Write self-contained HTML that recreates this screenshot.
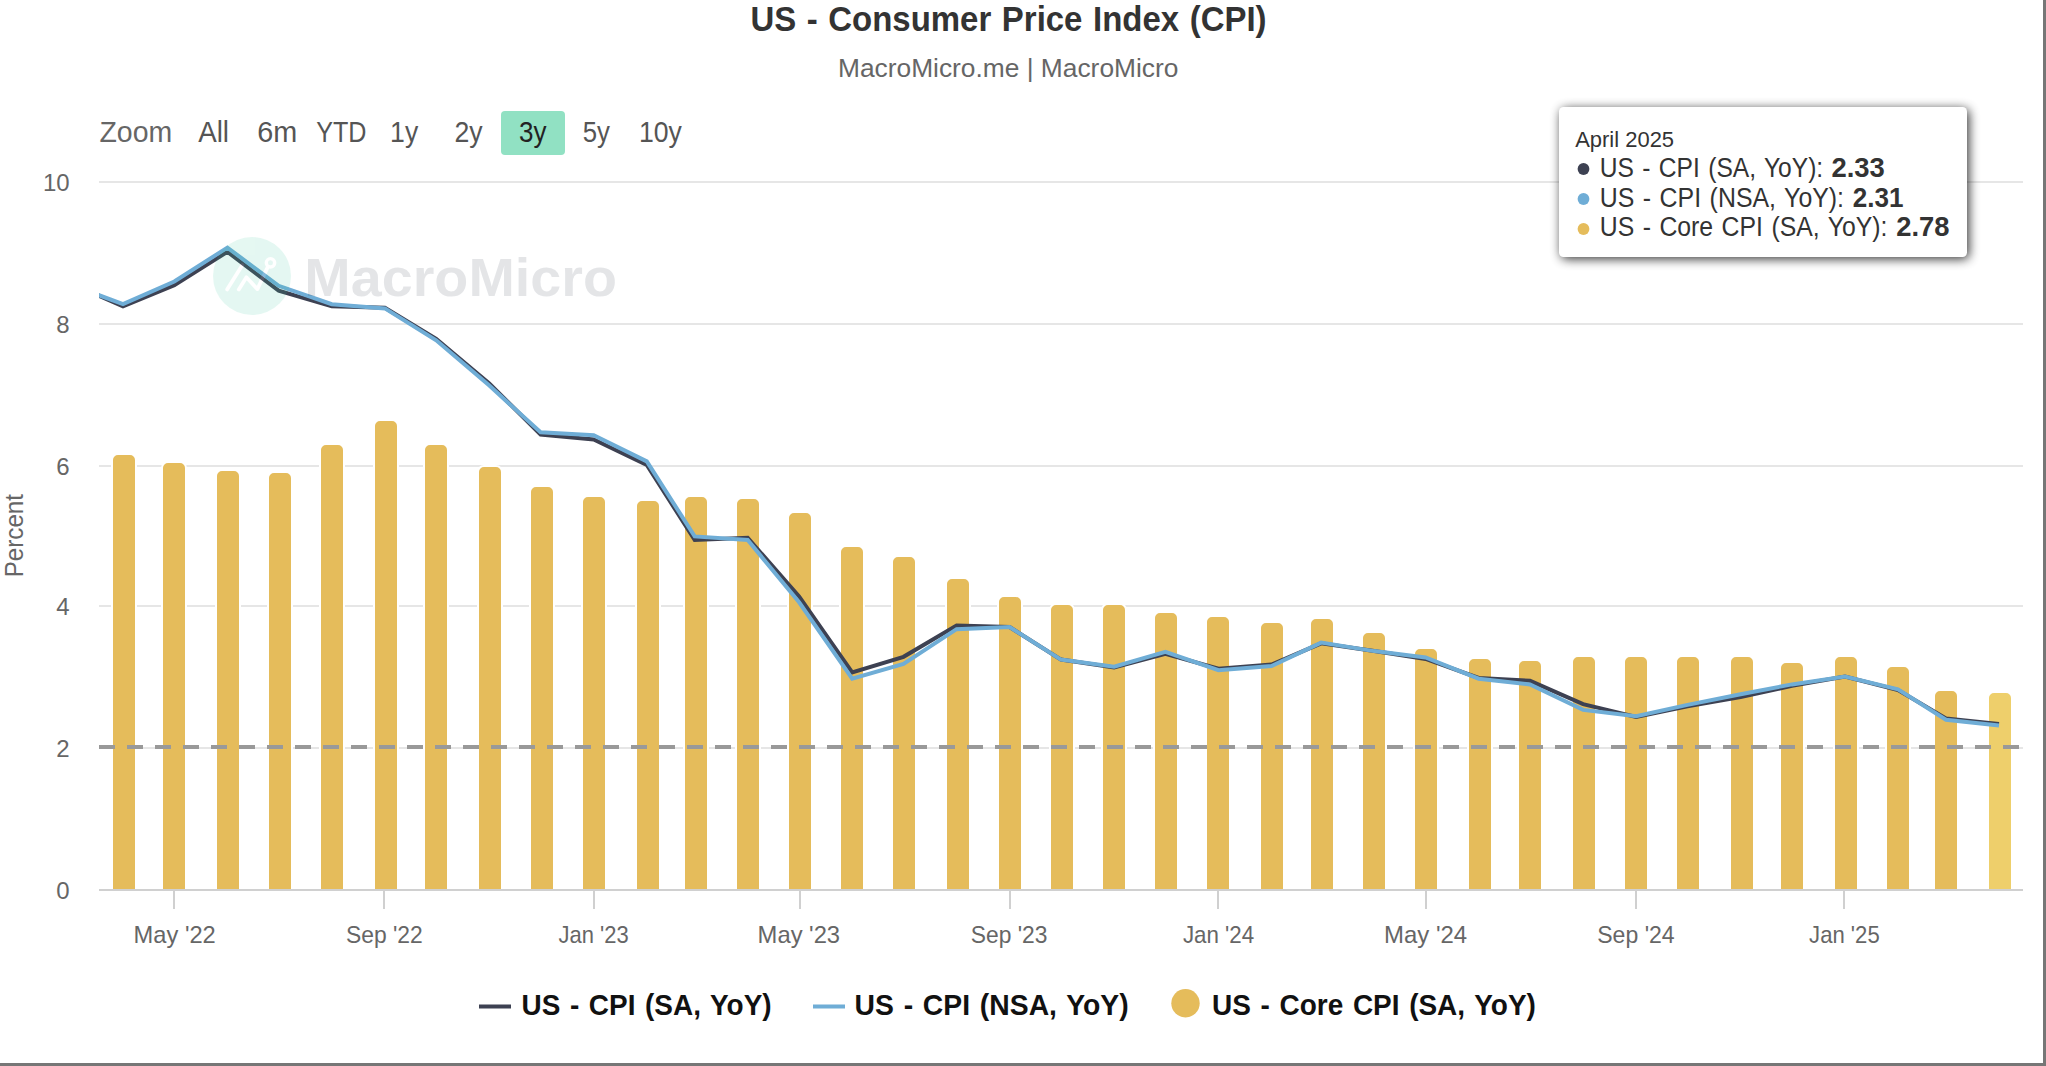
<!DOCTYPE html>
<html lang="en"><head><meta charset="utf-8"><title>US - Consumer Price Index (CPI)</title>
<style>html,body{margin:0;padding:0;background:#fff;overflow:hidden}svg text{white-space:pre}</style></head>
<body>
<svg width="2046" height="1066" viewBox="0 0 2046 1066" style="display:block;font-family:'Liberation Sans', 'DejaVu Sans', sans-serif">
<defs><clipPath id="pc"><rect x="99" y="160" width="1924" height="740"/></clipPath><filter id="sh" x="-10%" y="-25%" width="120%" height="150%"><feGaussianBlur stdDeviation="5.5"/></filter></defs>
<rect width="2046" height="1066" fill="#fff"/>
<text transform="translate(750.42,30.9) scale(0.9419,1)" font-size="35" font-weight="700" fill="#333" style="word-spacing:1.5px" id="title">US - Consumer Price Index (CPI)</text>
<text transform="translate(837.97,77) scale(1.0136,1)" font-size="26" fill="#666" id="subtitle">MacroMicro.me | MacroMicro</text>
<rect x="501" y="111" width="64" height="44" rx="4" fill="#91e1c3"/>
<text transform="translate(99.40,141.8) scale(0.9657,1)" font-size="29.5" fill="#666" id="zoom">Zoom</text>
<text transform="translate(198.20,141.8) scale(0.9414,1)" font-size="29.5" fill="#555">All</text>
<text transform="translate(257.32,141.8) scale(0.9764,1)" font-size="29.5" fill="#555">6m</text>
<text transform="translate(316.20,141.8) scale(0.8510,1)" font-size="29.5" fill="#555">YTD</text>
<text transform="translate(390.10,141.8) scale(0.9012,1)" font-size="29.5" fill="#555">1y</text>
<text transform="translate(454.50,141.8) scale(0.9044,1)" font-size="29.5" fill="#555">2y</text>
<text transform="translate(519.12,141.8) scale(0.8814,1)" font-size="29.5" fill="#222">3y</text>
<text transform="translate(582.73,141.8) scale(0.8748,1)" font-size="29.5" fill="#555">5y</text>
<text transform="translate(639.00,141.8) scale(0.9015,1)" font-size="29.5" fill="#555">10y</text>
<rect x="99" y="181" width="1924" height="2" fill="#e6e6e6"/>
<rect x="99" y="323" width="1924" height="2" fill="#e6e6e6"/>
<rect x="99" y="465" width="1924" height="2" fill="#e6e6e6"/>
<rect x="99" y="605" width="1924" height="2" fill="#e6e6e6"/>
<rect x="99" y="747" width="1924" height="2" fill="#e6e6e6"/>
<text x="69.6" y="191.1" text-anchor="end" font-size="24" fill="#666">10</text>
<text x="69.6" y="333.1" text-anchor="end" font-size="24" fill="#666">8</text>
<text x="69.6" y="475.1" text-anchor="end" font-size="24" fill="#666">6</text>
<text x="69.6" y="615.1" text-anchor="end" font-size="24" fill="#666">4</text>
<text x="69.6" y="757.1" text-anchor="end" font-size="24" fill="#666">2</text>
<text x="69.6" y="899.1" text-anchor="end" font-size="24" fill="#666">0</text>
<text transform="translate(23.2,575.5) rotate(-90) translate(-1.86,0) scale(0.9312,1)" font-size="26" fill="#666" id="ytitle">Percent</text>
<g stroke="#fff" stroke-width="2">
<path d="M112 890V460a6 6 0 0 1 6 -6H130a6 6 0 0 1 6 6V890Z" fill="#e5bc5b"/>
<path d="M162 890V468a6 6 0 0 1 6 -6H180a6 6 0 0 1 6 6V890Z" fill="#e5bc5b"/>
<path d="M216 890V476a6 6 0 0 1 6 -6H234a6 6 0 0 1 6 6V890Z" fill="#e5bc5b"/>
<path d="M268 890V478a6 6 0 0 1 6 -6H286a6 6 0 0 1 6 6V890Z" fill="#e5bc5b"/>
<path d="M320 890V450a6 6 0 0 1 6 -6H338a6 6 0 0 1 6 6V890Z" fill="#e5bc5b"/>
<path d="M374 890V426a6 6 0 0 1 6 -6H392a6 6 0 0 1 6 6V890Z" fill="#e5bc5b"/>
<path d="M424 890V450a6 6 0 0 1 6 -6H442a6 6 0 0 1 6 6V890Z" fill="#e5bc5b"/>
<path d="M478 890V472a6 6 0 0 1 6 -6H496a6 6 0 0 1 6 6V890Z" fill="#e5bc5b"/>
<path d="M530 890V492a6 6 0 0 1 6 -6H548a6 6 0 0 1 6 6V890Z" fill="#e5bc5b"/>
<path d="M582 890V502a6 6 0 0 1 6 -6H600a6 6 0 0 1 6 6V890Z" fill="#e5bc5b"/>
<path d="M636 890V506a6 6 0 0 1 6 -6H654a6 6 0 0 1 6 6V890Z" fill="#e5bc5b"/>
<path d="M684 890V502a6 6 0 0 1 6 -6H702a6 6 0 0 1 6 6V890Z" fill="#e5bc5b"/>
<path d="M736 890V504a6 6 0 0 1 6 -6H754a6 6 0 0 1 6 6V890Z" fill="#e5bc5b"/>
<path d="M788 890V518a6 6 0 0 1 6 -6H806a6 6 0 0 1 6 6V890Z" fill="#e5bc5b"/>
<path d="M840 890V552a6 6 0 0 1 6 -6H858a6 6 0 0 1 6 6V890Z" fill="#e5bc5b"/>
<path d="M892 890V562a6 6 0 0 1 6 -6H910a6 6 0 0 1 6 6V890Z" fill="#e5bc5b"/>
<path d="M946 890V584a6 6 0 0 1 6 -6H964a6 6 0 0 1 6 6V890Z" fill="#e5bc5b"/>
<path d="M998 890V602a6 6 0 0 1 6 -6H1016a6 6 0 0 1 6 6V890Z" fill="#e5bc5b"/>
<path d="M1050 890V610a6 6 0 0 1 6 -6H1068a6 6 0 0 1 6 6V890Z" fill="#e5bc5b"/>
<path d="M1102 890V610a6 6 0 0 1 6 -6H1120a6 6 0 0 1 6 6V890Z" fill="#e5bc5b"/>
<path d="M1154 890V618a6 6 0 0 1 6 -6H1172a6 6 0 0 1 6 6V890Z" fill="#e5bc5b"/>
<path d="M1206 890V622a6 6 0 0 1 6 -6H1224a6 6 0 0 1 6 6V890Z" fill="#e5bc5b"/>
<path d="M1260 890V628a6 6 0 0 1 6 -6H1278a6 6 0 0 1 6 6V890Z" fill="#e5bc5b"/>
<path d="M1310 890V624a6 6 0 0 1 6 -6H1328a6 6 0 0 1 6 6V890Z" fill="#e5bc5b"/>
<path d="M1362 890V638a6 6 0 0 1 6 -6H1380a6 6 0 0 1 6 6V890Z" fill="#e5bc5b"/>
<path d="M1414 890V654a6 6 0 0 1 6 -6H1432a6 6 0 0 1 6 6V890Z" fill="#e5bc5b"/>
<path d="M1468 890V664a6 6 0 0 1 6 -6H1486a6 6 0 0 1 6 6V890Z" fill="#e5bc5b"/>
<path d="M1518 890V666a6 6 0 0 1 6 -6H1536a6 6 0 0 1 6 6V890Z" fill="#e5bc5b"/>
<path d="M1572 890V662a6 6 0 0 1 6 -6H1590a6 6 0 0 1 6 6V890Z" fill="#e5bc5b"/>
<path d="M1624 890V662a6 6 0 0 1 6 -6H1642a6 6 0 0 1 6 6V890Z" fill="#e5bc5b"/>
<path d="M1676 890V662a6 6 0 0 1 6 -6H1694a6 6 0 0 1 6 6V890Z" fill="#e5bc5b"/>
<path d="M1730 890V662a6 6 0 0 1 6 -6H1748a6 6 0 0 1 6 6V890Z" fill="#e5bc5b"/>
<path d="M1780 890V668a6 6 0 0 1 6 -6H1798a6 6 0 0 1 6 6V890Z" fill="#e5bc5b"/>
<path d="M1834 890V662a6 6 0 0 1 6 -6H1852a6 6 0 0 1 6 6V890Z" fill="#e5bc5b"/>
<path d="M1886 890V672a6 6 0 0 1 6 -6H1904a6 6 0 0 1 6 6V890Z" fill="#e5bc5b"/>
<path d="M1934 890V696a6 6 0 0 1 6 -6H1952a6 6 0 0 1 6 6V890Z" fill="#e5bc5b"/>
<path d="M1988 890V698a6 6 0 0 1 6 -6H2006a6 6 0 0 1 6 6V890Z" fill="#eecf6b"/>
</g>
<rect x="99" y="889" width="1924" height="2" fill="#d0d0d0"/>
<rect x="173" y="889" width="2" height="20" fill="#d0d0d0"/>
<text transform="translate(133.61,943) scale(0.9873,1)" font-size="24" fill="#666">May '22</text>
<rect x="383" y="889" width="2" height="20" fill="#d0d0d0"/>
<text transform="translate(345.95,943) scale(0.9533,1)" font-size="24" fill="#666">Sep '22</text>
<rect x="593" y="889" width="2" height="20" fill="#d0d0d0"/>
<text transform="translate(558.60,943) scale(0.9149,1)" font-size="24" fill="#666">Jan '23</text>
<rect x="799" y="889" width="2" height="20" fill="#d0d0d0"/>
<text transform="translate(757.61,943) scale(0.9910,1)" font-size="24" fill="#666">May '23</text>
<rect x="1009" y="889" width="2" height="20" fill="#d0d0d0"/>
<text transform="translate(970.85,943) scale(0.9508,1)" font-size="24" fill="#666">Sep '23</text>
<rect x="1217" y="889" width="2" height="20" fill="#d0d0d0"/>
<text transform="translate(1182.90,943) scale(0.9306,1)" font-size="24" fill="#666">Jan '24</text>
<rect x="1425" y="889" width="2" height="20" fill="#d0d0d0"/>
<text transform="translate(1384.00,943) scale(0.9983,1)" font-size="24" fill="#666">May '24</text>
<rect x="1635" y="889" width="2" height="20" fill="#d0d0d0"/>
<text transform="translate(1597.24,943) scale(0.9609,1)" font-size="24" fill="#666">Sep '24</text>
<rect x="1843" y="889" width="2" height="20" fill="#d0d0d0"/>
<text transform="translate(1809.10,943) scale(0.9214,1)" font-size="24" fill="#666">Jan '25</text>
<g clip-path="url(#pc)" fill="none" stroke-width="4" stroke-linejoin="miter" stroke-miterlimit="10">
<path d="M69.9 283.0L123.0 306.3L174.3 285.1L227.4 251.8L278.7 290.7L331.8 306.3L384.9 307.7L436.2 338.9L489.3 383.5L540.6 434.5L593.7 439.4L646.8 464.9L694.7 540.0L747.7 537.8L799.1 596.6L852.2 672.4L903.5 656.8L956.6 625.6L1009.6 627.0L1061.0 659.6L1114.1 667.4L1165.4 653.9L1218.5 668.8L1271.5 664.6L1321.2 643.3L1374.2 651.1L1425.6 658.9L1478.7 678.0L1530.0 680.8L1583.1 704.2L1636.1 717.0L1687.5 706.3L1740.6 697.1L1791.9 685.8L1845.0 676.6L1898.0 690.1L1946.0 718.4L1999.0 724.0" stroke="#3d4152"/>
<path d="M69.9 284.4L123.0 304.2L174.3 281.5L227.4 247.6L278.7 285.8L331.8 304.2L384.9 308.4L436.2 340.3L489.3 385.6L540.6 432.3L593.7 435.2L646.8 461.4L694.7 536.4L747.7 540.0L799.1 602.3L852.2 678.7L903.5 663.9L956.6 629.2L1009.6 627.0L1061.0 659.6L1114.1 666.7L1165.4 651.8L1218.5 670.2L1271.5 666.0L1321.2 642.6L1374.2 651.1L1425.6 657.5L1478.7 678.7L1530.0 684.4L1583.1 709.9L1636.1 716.2L1687.5 704.9L1740.6 694.3L1791.9 684.4L1845.0 676.6L1898.0 689.3L1946.0 719.8L1999.0 725.5" stroke="#6fadd6"/>
</g>
<path d="M99 747H2023" stroke="#999" stroke-width="4" stroke-dasharray="16 12" fill="none"/>
<g opacity="0.135">
<circle cx="252" cy="276" r="39" fill="#3cc8a0"/>
<g fill="none" stroke="#fff" stroke-width="3.8" stroke-linecap="round" stroke-linejoin="round"><path d="M227.1 289.5L242.4 265"/><path d="M238.8 289.5L246.4 277.3L257.4 289.1L267.6 267.4"/><circle cx="270.5" cy="262.8" r="4.2" stroke-width="3.4"/></g>
<text transform="translate(304.35,295.7) scale(1.0509,1)" font-size="53" font-weight="700" fill="#3a4356" id="wm">MacroMicro</text>
</g>
<rect x="1561" y="109" width="408" height="150" rx="5" fill="#000" opacity="0.8" filter="url(#sh)"/>
<rect x="1559" y="107" width="408" height="150" rx="4.5" fill="#fff"/>
<text transform="translate(1575.20,146.9) scale(0.9987,1)" font-size="22" fill="#333" id="tt0">April 2025</text>
<circle cx="1583.5" cy="169" r="5.9" fill="#3d4152"/>
<text transform="translate(1599.74,176.6) scale(0.8781,1)" font-size="28" fill="#333" style="word-spacing:1.8px" id="tt1">US - CPI (SA, YoY):</text>
<text transform="translate(1831.40,176.6) scale(0.9792,1)" font-size="28" font-weight="700" fill="#333">2.33</text>
<circle cx="1583.5" cy="199" r="5.9" fill="#6fadd6"/>
<text transform="translate(1599.72,206.6) scale(0.8893,1)" font-size="28" fill="#333" style="word-spacing:1.8px" id="tt2">US - CPI (NSA, YoY):</text>
<text transform="translate(1852.70,206.6) scale(0.9309,1)" font-size="28" font-weight="700" fill="#333">2.31</text>
<circle cx="1583.5" cy="229" r="5.9" fill="#e5bc5b"/>
<text transform="translate(1599.73,236.4) scale(0.8858,1)" font-size="28" fill="#333" style="word-spacing:1.8px" id="tt3">US - Core CPI (SA, YoY):</text>
<text transform="translate(1896.30,236.4) scale(0.9773,1)" font-size="28" font-weight="700" fill="#333">2.78</text>
<rect x="479" y="1004.5" width="32" height="4" fill="#3d4152"/>
<text transform="translate(521.47,1014.8) scale(0.9317,1)" font-size="30" font-weight="700" fill="#111" style="word-spacing:2px" id="lg1">US - CPI (SA, YoY)</text>
<rect x="813" y="1004.5" width="32" height="4" fill="#6fadd6"/>
<text transform="translate(854.56,1014.8) scale(0.9446,1)" font-size="30" font-weight="700" fill="#111" style="word-spacing:2px" id="lg2">US - CPI (NSA, YoY)</text>
<circle cx="1185.5" cy="1003.2" r="14.2" fill="#e5bc5b"/>
<text transform="translate(1212.07,1014.8) scale(0.9326,1)" font-size="30" font-weight="700" fill="#111" style="word-spacing:2px" id="lg3">US - Core CPI (SA, YoY)</text>
<rect x="2043" y="0" width="3" height="1066" fill="#767676"/>
<rect x="0" y="1063" width="2046" height="3" fill="#767676"/>
</svg>
</body></html>
